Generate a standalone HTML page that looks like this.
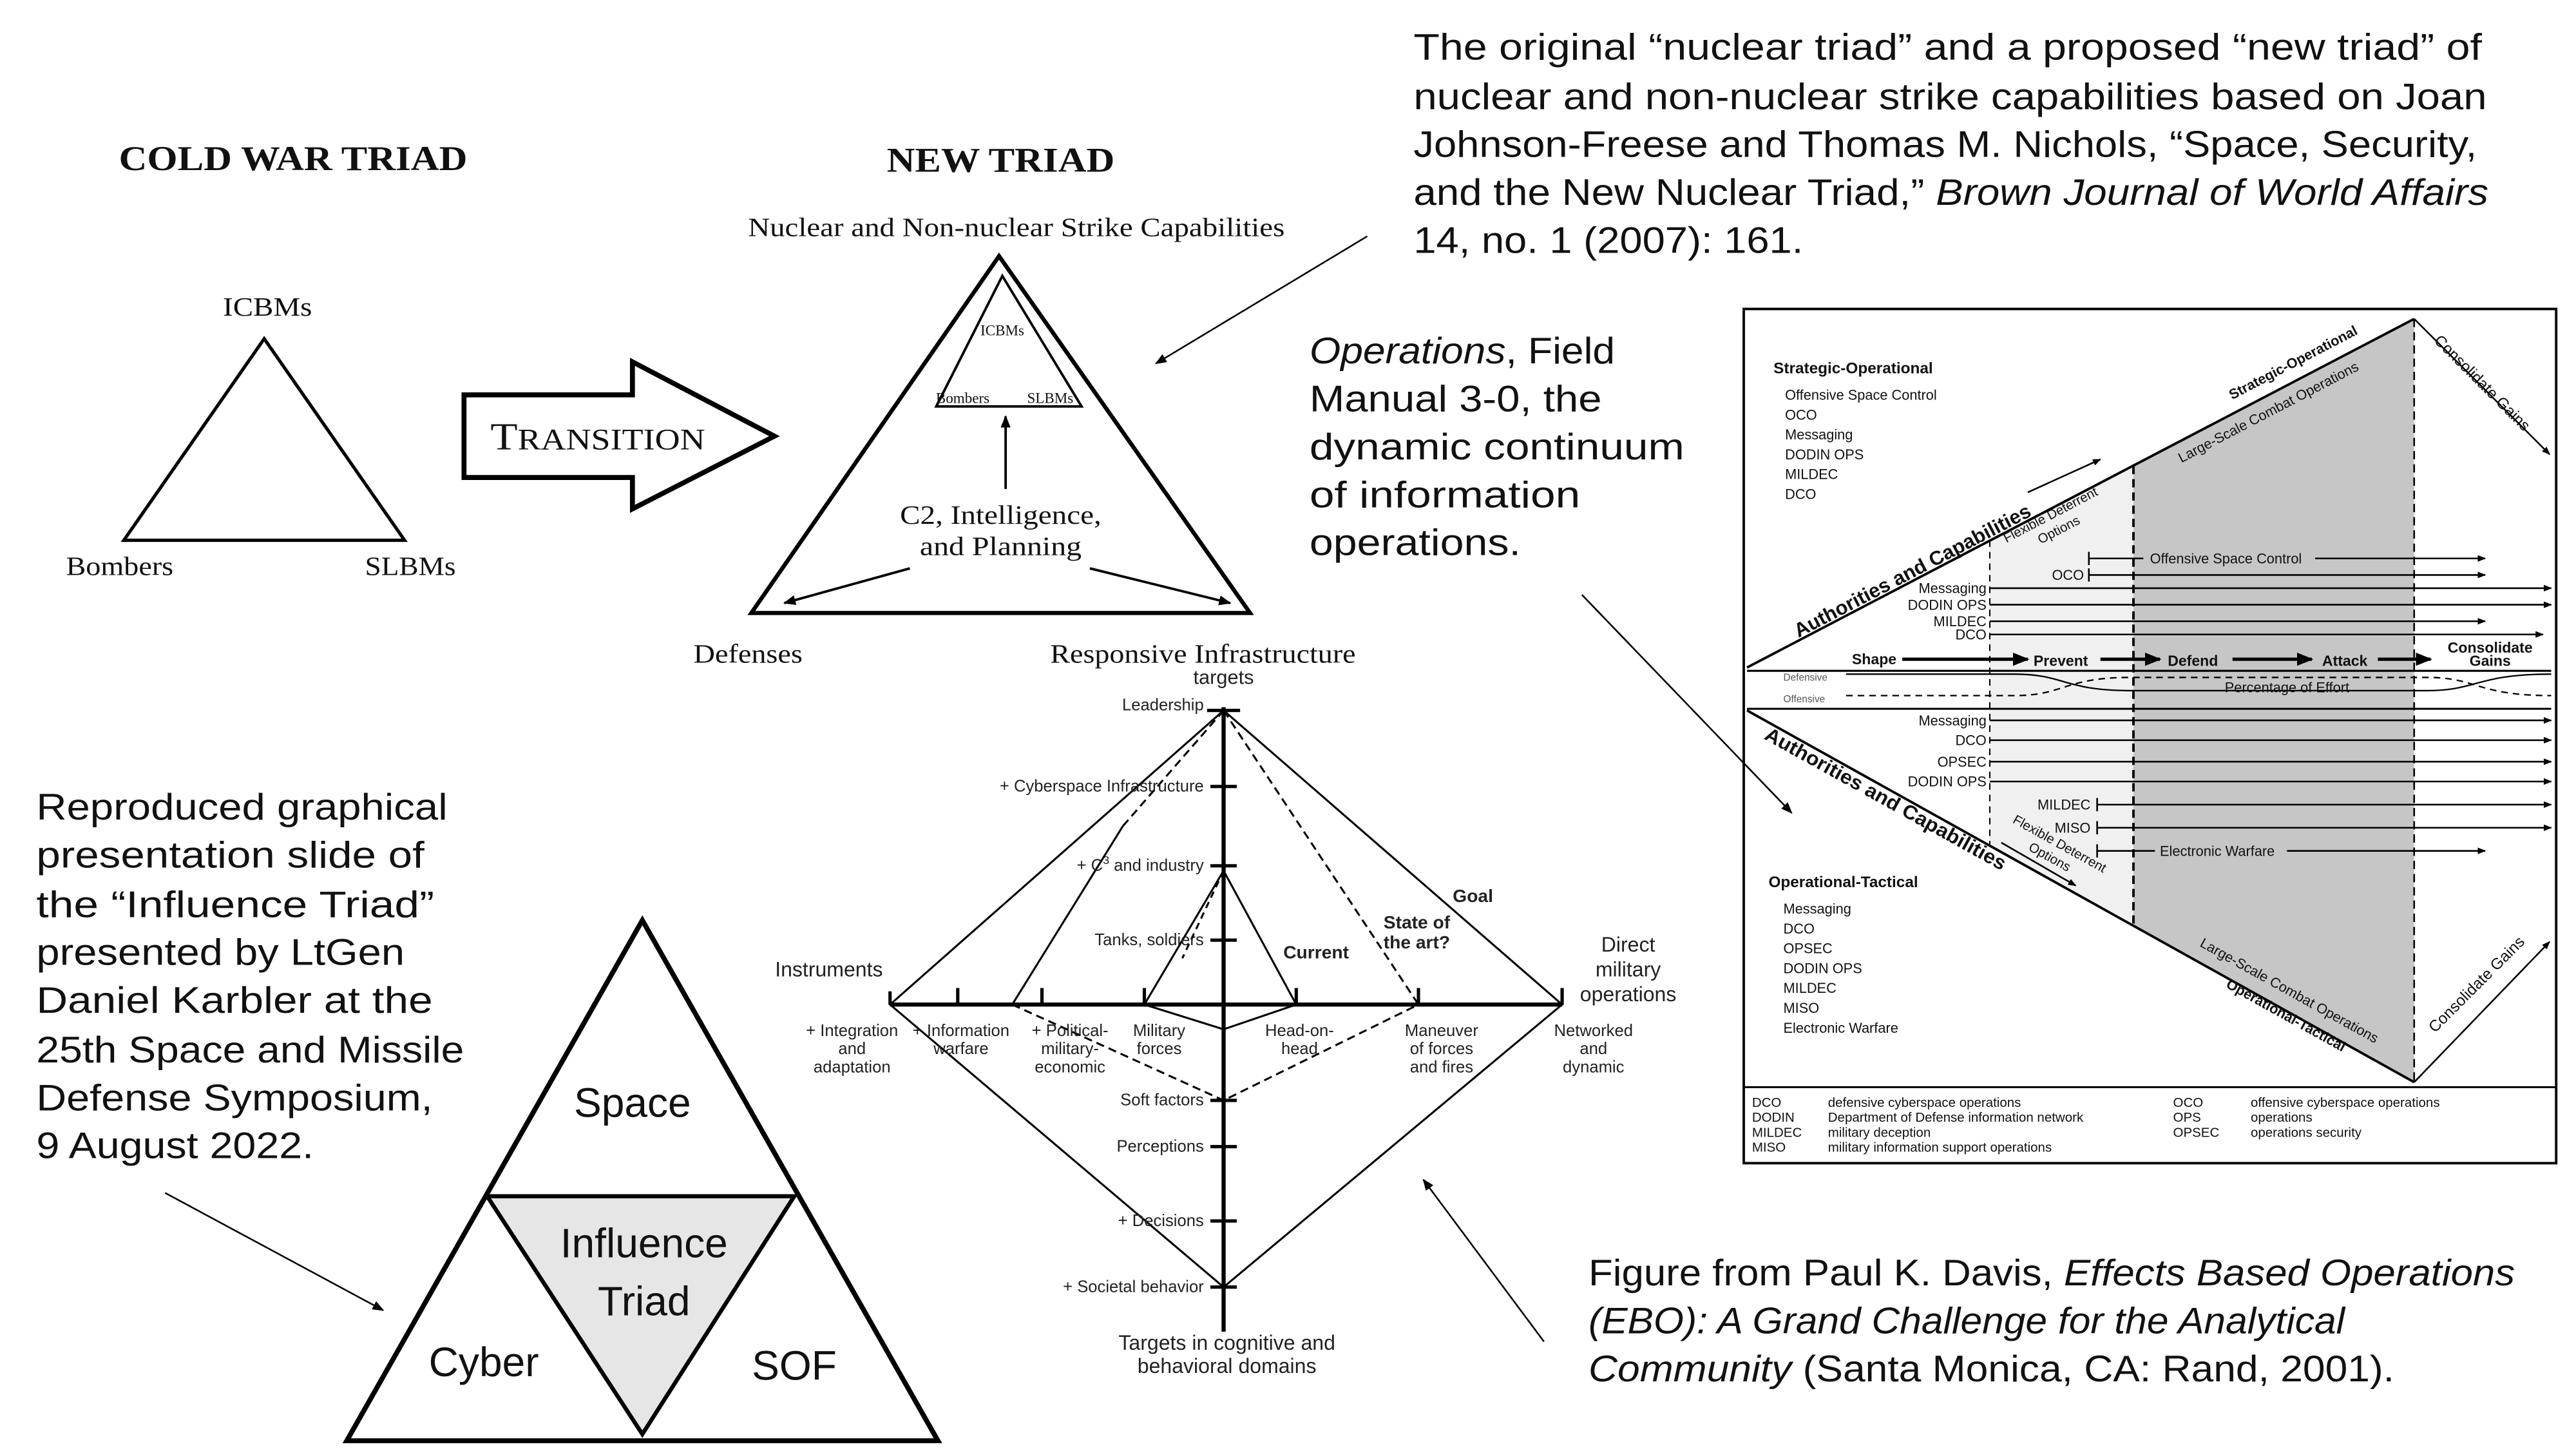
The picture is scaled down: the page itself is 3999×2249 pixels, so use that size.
<!DOCTYPE html>
<html><head><meta charset="utf-8"><style>
html,body{margin:0;padding:0;background:#fff;}
svg{display:block;}
.s{font-family:"Liberation Serif",serif;}
.a{font-family:"Liberation Sans",sans-serif;}
</style></head><body>
<svg width="3999" height="2249" viewBox="0 0 1560 877" preserveAspectRatio="none" xmlns="http://www.w3.org/2000/svg">
<defs>
<marker id="ah" viewBox="0 0 10 10" refX="9" refY="5" markerWidth="7" markerHeight="7" orient="auto"><path d="M0,1 L10,5 L0,9 z" fill="#000"/></marker>
<marker id="as" viewBox="0 0 10 10" refX="9" refY="5" markerWidth="5" markerHeight="5" orient="auto"><path d="M0,1 L10,5 L0,9 z" fill="#000"/></marker>
</defs>
<rect width="1560" height="877" fill="#fff"/>

<!-- Cold war triad -->
<g class="s" fill="#111">
<text x="72" y="103" font-size="21" font-weight="bold" textLength="211" lengthAdjust="spacingAndGlyphs">COLD WAR TRIAD</text>
<text x="135" y="191" font-size="16" textLength="54" lengthAdjust="spacingAndGlyphs">ICBMs</text>
<text x="40" y="348" font-size="16" textLength="65" lengthAdjust="spacingAndGlyphs">Bombers</text>
<text x="221" y="348" font-size="16" textLength="55" lengthAdjust="spacingAndGlyphs">SLBMs</text>
</g>
<polygon points="160,205 75,327 245,327" fill="none" stroke="#000" stroke-width="2"/>
<polygon points="281,239 383,239 383,219 469,264 383,308 383,289 281,289" fill="#fff" stroke="#000" stroke-width="3"/>
<text class="s" x="297" y="272" font-size="23" fill="#111" textLength="130" lengthAdjust="spacingAndGlyphs">T<tspan font-size="18">RANSITION</tspan></text>

<!-- New triad -->
<g class="s" fill="#111">
<text x="537" y="104" font-size="21" font-weight="bold" textLength="138" lengthAdjust="spacingAndGlyphs">NEW TRIAD</text>
<text x="453" y="143" font-size="16" textLength="325" lengthAdjust="spacingAndGlyphs">Nuclear and Non-nuclear Strike Capabilities</text>
<text x="607" y="203" font-size="9" text-anchor="middle">ICBMs</text>
<text x="583" y="244" font-size="9" text-anchor="middle">Bombers</text>
<text x="636" y="244" font-size="9" text-anchor="middle">SLBMs</text>
<text x="545" y="317" font-size="16" textLength="122" lengthAdjust="spacingAndGlyphs">C2, Intelligence,</text>
<text x="557" y="336" font-size="16" textLength="98" lengthAdjust="spacingAndGlyphs">and Planning</text>
<text x="420" y="401" font-size="16" textLength="66" lengthAdjust="spacingAndGlyphs">Defenses</text>
<text x="636" y="401" font-size="16" textLength="185" lengthAdjust="spacingAndGlyphs">Responsive Infrastructure</text>
</g>
<polygon points="605,155 455,371 757,371" fill="none" stroke="#000" stroke-width="2.5"/>
<polygon points="607,167 567,246 655,246" fill="none" stroke="#000" stroke-width="1.5"/>
<line x1="609" y1="296" x2="609" y2="252" stroke="#000" stroke-width="1.5" marker-end="url(#as)"/>
<line x1="551" y1="344" x2="475" y2="365" stroke="#000" stroke-width="1.5" marker-end="url(#as)"/>
<line x1="660" y1="344" x2="745" y2="365" stroke="#000" stroke-width="1.5" marker-end="url(#as)"/>

<!-- Captions -->
<g class="a" font-size="22.5" fill="#111" lengthAdjust="spacingAndGlyphs">
<text x="856" y="36" textLength="647" lengthAdjust="spacingAndGlyphs">The original “nuclear triad” and a proposed “new triad” of</text>
<text x="856" y="66" textLength="650" lengthAdjust="spacingAndGlyphs">nuclear and non-nuclear strike capabilities based on Joan</text>
<text x="856" y="95" textLength="644" lengthAdjust="spacingAndGlyphs">Johnson-Freese and Thomas M. Nichols, “Space, Security,</text>
<text x="856" y="124" textLength="651" lengthAdjust="spacingAndGlyphs">and the New Nuclear Triad,” <tspan font-style="italic">Brown Journal of World Affairs</tspan></text>
<text x="856" y="153" textLength="236" lengthAdjust="spacingAndGlyphs">14, no. 1 (2007): 161.</text>
<text x="793" y="220" textLength="185" lengthAdjust="spacingAndGlyphs"><tspan font-style="italic">Operations</tspan>, Field</text>
<text x="793" y="249" textLength="177" lengthAdjust="spacingAndGlyphs">Manual 3-0, the</text>
<text x="793" y="278" textLength="227" lengthAdjust="spacingAndGlyphs">dynamic continuum</text>
<text x="793" y="307" textLength="164" lengthAdjust="spacingAndGlyphs">of information</text>
<text x="793" y="336" textLength="128" lengthAdjust="spacingAndGlyphs">operations.</text>
<text x="22" y="496" textLength="249" lengthAdjust="spacingAndGlyphs">Reproduced graphical</text>
<text x="22" y="525" textLength="235" lengthAdjust="spacingAndGlyphs">presentation slide of</text>
<text x="22" y="555" textLength="241" lengthAdjust="spacingAndGlyphs">the “Influence Triad”</text>
<text x="22" y="584" textLength="223" lengthAdjust="spacingAndGlyphs">presented by LtGen</text>
<text x="22" y="613" textLength="240" lengthAdjust="spacingAndGlyphs">Daniel Karbler at the</text>
<text x="22" y="643" textLength="259" lengthAdjust="spacingAndGlyphs">25th Space and Missile</text>
<text x="22" y="672" textLength="240" lengthAdjust="spacingAndGlyphs">Defense Symposium,</text>
<text x="22" y="701" textLength="168" lengthAdjust="spacingAndGlyphs">9 August 2022.</text>
<text x="962" y="778" textLength="561" lengthAdjust="spacingAndGlyphs">Figure from Paul K. Davis, <tspan font-style="italic">Effects Based Operations</tspan></text>
<text x="962" y="807" font-style="italic" textLength="458" lengthAdjust="spacingAndGlyphs">(EBO): A Grand Challenge for the Analytical</text>
<text x="962" y="836" textLength="488" lengthAdjust="spacingAndGlyphs"><tspan font-style="italic">Community</tspan> (Santa Monica, CA: Rand, 2001).</text>
</g>

<!-- Influence triad -->
<polygon points="295,724 481,724 389,868" fill="#e6e6e6"/>
<polygon points="389,557 210,872 568,872" fill="none" stroke="#000" stroke-width="3"/>
<polyline points="295,724 481,724 389,868 295,724" fill="none" stroke="#000" stroke-width="2.5"/>
<g class="a" font-size="25" fill="#111" text-anchor="middle">
<text x="383" y="676">Space</text>
<text x="390" y="761">Influence</text>
<text x="390" y="796">Triad</text>
<text x="293" y="833">Cyber</text>
<text x="481" y="835">SOF</text>
</g>

<!-- EBO diagram -->
<g stroke="#000" fill="none">
<line x1="741" y1="428" x2="741" y2="806" stroke-width="2.5"/>
<line x1="539" y1="608" x2="946" y2="608" stroke-width="2.5"/>
<g stroke-width="2">
<line x1="731" y1="430" x2="751" y2="430"/>
<line x1="733" y1="476" x2="749" y2="476"/><line x1="733" y1="524" x2="749" y2="524"/>
<line x1="733" y1="569" x2="749" y2="569"/><line x1="733" y1="666" x2="749" y2="666"/>
<line x1="733" y1="694" x2="749" y2="694"/><line x1="733" y1="739" x2="749" y2="739"/>
<line x1="733" y1="779" x2="749" y2="779"/>
<line x1="539" y1="600" x2="539" y2="608"/><line x1="580" y1="598" x2="580" y2="608"/>
<line x1="631" y1="598" x2="631" y2="608"/><line x1="693" y1="598" x2="693" y2="608"/>
<line x1="785" y1="598" x2="785" y2="608"/><line x1="859" y1="598" x2="859" y2="608"/>
<line x1="946" y1="598" x2="946" y2="608"/>
</g>
<polygon points="741,430 946,608 741,779 539,608" stroke-width="1.2"/>
<line x1="613" y1="608" x2="680" y2="500" stroke-width="1.2"/>
<line x1="680" y1="500" x2="741" y2="430" stroke-width="1.2" stroke-dasharray="5,3"/>
<line x1="741" y1="430" x2="859" y2="608" stroke-width="1.2" stroke-dasharray="5,3"/>
<polyline points="613,608 741,666 859,608" stroke-width="1.2" stroke-dasharray="5,3"/>
<line x1="741" y1="527" x2="693" y2="608" stroke-width="1.2"/>
<line x1="741" y1="527" x2="785" y2="608" stroke-width="1.2"/>
<line x1="741" y1="527" x2="716" y2="580" stroke-width="1.2" stroke-dasharray="4,3"/>
<polyline points="693,608 741,623 785,608" stroke-width="1.2"/>
</g>
<g class="a" font-size="10" fill="#222">
<text x="741" y="414" text-anchor="middle" font-size="12">targets</text>
<g text-anchor="end">
<text x="729" y="430">Leadership</text>
<text x="729" y="479">+ Cyberspace Infrastructure</text>
<text x="729" y="527">+ C<tspan font-size="7" dy="-4">3</tspan><tspan dy="4"> and industry</tspan></text>
<text x="729" y="572">Tanks, soldiers</text>
<text x="729" y="669">Soft factors</text>
<text x="729" y="697">Perceptions</text>
<text x="729" y="742">+ Decisions</text>
<text x="729" y="782">+ Societal behavior</text>
</g>
<g text-anchor="middle">
<text x="516" y="627">+ Integration</text><text x="516" y="638">and</text><text x="516" y="649">adaptation</text>
<text x="582" y="627">+ Information</text><text x="582" y="638">warfare</text>
<text x="648" y="627">+ Political-</text><text x="648" y="638">military-</text><text x="648" y="649">economic</text>
<text x="702" y="627">Military</text><text x="702" y="638">forces</text>
<text x="787" y="627">Head-on-</text><text x="787" y="638">head</text>
<text x="873" y="627">Maneuver</text><text x="873" y="638">of forces</text><text x="873" y="649">and fires</text>
<text x="965" y="627">Networked</text><text x="965" y="638">and</text><text x="965" y="649">dynamic</text>
<text x="502" y="591" font-size="12.5">Instruments</text>
<text x="986" y="576" font-size="12.5">Direct</text><text x="986" y="591" font-size="12.5">military</text><text x="986" y="606" font-size="12.5">operations</text>
<text x="743" y="817" font-size="12.5">Targets in cognitive and</text><text x="743" y="831" font-size="12.5">behavioral domains</text>
</g>
<g font-weight="bold" font-size="11" text-anchor="middle">
<text x="892" y="546">Goal</text>
<text x="858" y="562">State of</text><text x="858" y="574">the art?</text>
<text x="797" y="580">Current</text>
</g>
</g>

<!-- FM 3-0 diagram -->
<rect x="1056" y="187" width="492" height="517" fill="#fff" stroke="#000" stroke-width="1.5"/>
<line x1="1056" y1="658" x2="1548" y2="658" stroke="#000" stroke-width="1.2"/>
<polygon points="1205,327 1292,282 1292,560 1205,512" fill="#f0f0f0"/>
<polygon points="1292,282 1462,193 1462,655 1292,560" fill="#c6c6c6"/>
<g stroke="#000" fill="none">
<line x1="1058" y1="404" x2="1462" y2="193" stroke-width="1.5"/>
<line x1="1058" y1="430" x2="1462" y2="655" stroke-width="1.5"/>
<line x1="1058" y1="406" x2="1545" y2="406" stroke-width="1.2"/>
<line x1="1058" y1="429" x2="1545" y2="429" stroke-width="1.2"/>
<line x1="1205" y1="327" x2="1205" y2="512" stroke-width="0.8" stroke-dasharray="4,3"/>
<line x1="1292" y1="282" x2="1292" y2="560" stroke-width="1.5" stroke-dasharray="5,3"/>
<line x1="1462" y1="193" x2="1462" y2="655" stroke-width="1" stroke-dasharray="5,3"/>
<line x1="1462" y1="193" x2="1544" y2="275" stroke-width="1" marker-end="url(#as)"/>
<line x1="1462" y1="655" x2="1544" y2="570" stroke-width="1" marker-end="url(#as)"/>
<line x1="1228" y1="298" x2="1272" y2="278" stroke-width="1" marker-end="url(#as)"/>
<line x1="1212" y1="510" x2="1257" y2="536" stroke-width="1" marker-end="url(#as)"/>
<g stroke-width="1">
<line x1="1265" y1="338" x2="1505" y2="338" marker-end="url(#as)"/><line x1="1265" y1="334" x2="1265" y2="342"/>
<line x1="1265" y1="348" x2="1505" y2="348" marker-end="url(#as)"/><line x1="1265" y1="344" x2="1265" y2="352"/>
<line x1="1205" y1="356" x2="1545" y2="356" marker-end="url(#as)"/>
<line x1="1205" y1="366" x2="1545" y2="366" marker-end="url(#as)"/>
<line x1="1205" y1="376" x2="1505" y2="376" marker-end="url(#as)"/>
<line x1="1205" y1="384" x2="1540" y2="384" marker-end="url(#as)"/>
<line x1="1205" y1="436" x2="1545" y2="436" marker-end="url(#as)"/>
<line x1="1205" y1="448" x2="1545" y2="448" marker-end="url(#as)"/>
<line x1="1205" y1="461" x2="1545" y2="461" marker-end="url(#as)"/>
<line x1="1205" y1="473" x2="1545" y2="473" marker-end="url(#as)"/>
<line x1="1270" y1="487" x2="1545" y2="487" marker-end="url(#as)"/><line x1="1270" y1="483" x2="1270" y2="491"/>
<line x1="1270" y1="501" x2="1545" y2="501" marker-end="url(#as)"/><line x1="1270" y1="497" x2="1270" y2="505"/>
<line x1="1270" y1="515" x2="1505" y2="515" marker-end="url(#as)"/><line x1="1270" y1="511" x2="1270" y2="519"/>
</g>
<g stroke-width="2">
<line x1="1152" y1="399" x2="1228" y2="399" marker-end="url(#as)"/>
<line x1="1272" y1="399" x2="1308" y2="399" marker-end="url(#as)"/>
<line x1="1352" y1="399" x2="1400" y2="399" marker-end="url(#as)"/>
<line x1="1440" y1="399" x2="1472" y2="399" marker-end="url(#as)"/>
</g>
<path d="M1118,408 L1220,408 C1250,408 1250,418 1290,418 L1470,418 C1500,418 1500,408 1545,408" stroke-width="0.9"/>
<path d="M1118,421 L1220,421 C1250,421 1250,410 1290,410 L1470,410 C1500,410 1500,421 1545,421" stroke-width="0.9" stroke-dasharray="4,3"/>
</g>
<g class="a" font-size="8.5" fill="#111">
<text x="1074" y="226" font-weight="bold" font-size="9.5">Strategic-Operational</text>
<text x="1081" y="242">Offensive Space Control</text><text x="1081" y="254">OCO</text><text x="1081" y="266">Messaging</text>
<text x="1081" y="278">DODIN OPS</text><text x="1081" y="290">MILDEC</text><text x="1081" y="302">DCO</text>
<text x="1071" y="537" font-weight="bold" font-size="9.5">Operational-Tactical</text>
<text x="1080" y="553">Messaging</text><text x="1080" y="565">DCO</text><text x="1080" y="577">OPSEC</text><text x="1080" y="589">DODIN OPS</text>
<text x="1080" y="601">MILDEC</text><text x="1080" y="613">MISO</text><text x="1080" y="625">Electronic Warfare</text>
<rect x="1298" y="333" width="104" height="10" fill="#c6c6c6"/>
<text x="1302" y="341">Offensive Space Control</text>
<rect x="1305" y="510" width="80" height="10" fill="#c6c6c6"/>
<text x="1308" y="518" font-size="8.5">Electronic Warfare</text>
<g text-anchor="end">
<text x="1262" y="351">OCO</text>
<text x="1203" y="359">Messaging</text><text x="1203" y="369">DODIN OPS</text><text x="1203" y="379">MILDEC</text><text x="1203" y="387">DCO</text>
<text x="1203" y="439">Messaging</text><text x="1203" y="451">DCO</text><text x="1203" y="464">OPSEC</text><text x="1203" y="476">DODIN OPS</text>
<text x="1266" y="490">MILDEC</text><text x="1266" y="504">MISO</text>
</g>
<g font-weight="bold" font-size="9" text-anchor="middle">
<text x="1135" y="402">Shape</text><text x="1248" y="403">Prevent</text><text x="1328" y="403">Defend</text><text x="1420" y="403">Attack</text>
<text x="1508" y="395">Consolidate</text><text x="1508" y="403">Gains</text>
</g>
<text x="1080" y="412" font-size="6" fill="#555">Defensive</text>
<text x="1080" y="425" font-size="6" fill="#555">Offensive</text>
<text x="1385" y="419" text-anchor="middle">Percentage of Effort</text>
<text transform="translate(1160,349) rotate(-27.6)" text-anchor="middle" font-weight="bold" font-size="12" textLength="160" lengthAdjust="spacingAndGlyphs">Authorities and Capabilities</text>
<text transform="translate(1390,222) rotate(-27.6)" text-anchor="middle" font-weight="bold" font-size="8.5">Strategic-Operational</text>
<text transform="translate(1375,252) rotate(-27.6)" text-anchor="middle" font-size="8.5">Large-Scale Combat Operations</text>
<text transform="translate(1243,314) rotate(-27.6)" text-anchor="middle" font-size="8">Flexible Deterrent</text>
<text transform="translate(1248,323) rotate(-27.6)" text-anchor="middle" font-size="8">Options</text>
<text transform="translate(1501,234) rotate(45)" text-anchor="middle" font-size="9.5">Consolidate Gains</text>
<text transform="translate(1140,487) rotate(29)" text-anchor="middle" font-weight="bold" font-size="12" textLength="165" lengthAdjust="spacingAndGlyphs">Authorities and Capabilities</text>
<text transform="translate(1246,513) rotate(29)" text-anchor="middle" font-size="8">Flexible Deterrent</text>
<text transform="translate(1240,521) rotate(29)" text-anchor="middle" font-size="8">Options</text>
<text transform="translate(1385,602) rotate(29)" text-anchor="middle" font-size="8.5">Large-Scale Combat Operations</text>
<text transform="translate(1383,617) rotate(29)" text-anchor="middle" font-weight="bold" font-size="8.5">Operational-Tactical</text>
<text transform="translate(1502,598) rotate(-45)" text-anchor="middle" font-size="9.5">Consolidate Gains</text>
<g font-size="8">
<text x="1061" y="670">DCO</text><text x="1061" y="679">DODIN</text><text x="1061" y="688">MILDEC</text><text x="1061" y="697">MISO</text>
<text x="1107" y="670">defensive cyberspace operations</text><text x="1107" y="679">Department of Defense information network</text>
<text x="1107" y="688">military deception</text><text x="1107" y="697">military information support operations</text>
<text x="1316" y="670">OCO</text><text x="1316" y="679">OPS</text><text x="1316" y="688">OPSEC</text>
<text x="1363" y="670">offensive cyberspace operations</text><text x="1363" y="679">operations</text><text x="1363" y="688">operations security</text>
</g>
</g>

<!-- Pointer arrows (on top) -->
<line x1="828" y1="143" x2="700" y2="220" stroke="#000" stroke-width="1" marker-end="url(#ah)"/>
<line x1="958" y1="360" x2="1085" y2="492" stroke="#000" stroke-width="1" marker-end="url(#ah)"/>
<line x1="100" y1="722" x2="232" y2="793" stroke="#000" stroke-width="1" marker-end="url(#ah)"/>
<line x1="935" y1="812" x2="862" y2="714" stroke="#000" stroke-width="1" marker-end="url(#ah)"/>
</svg>
</body></html>
